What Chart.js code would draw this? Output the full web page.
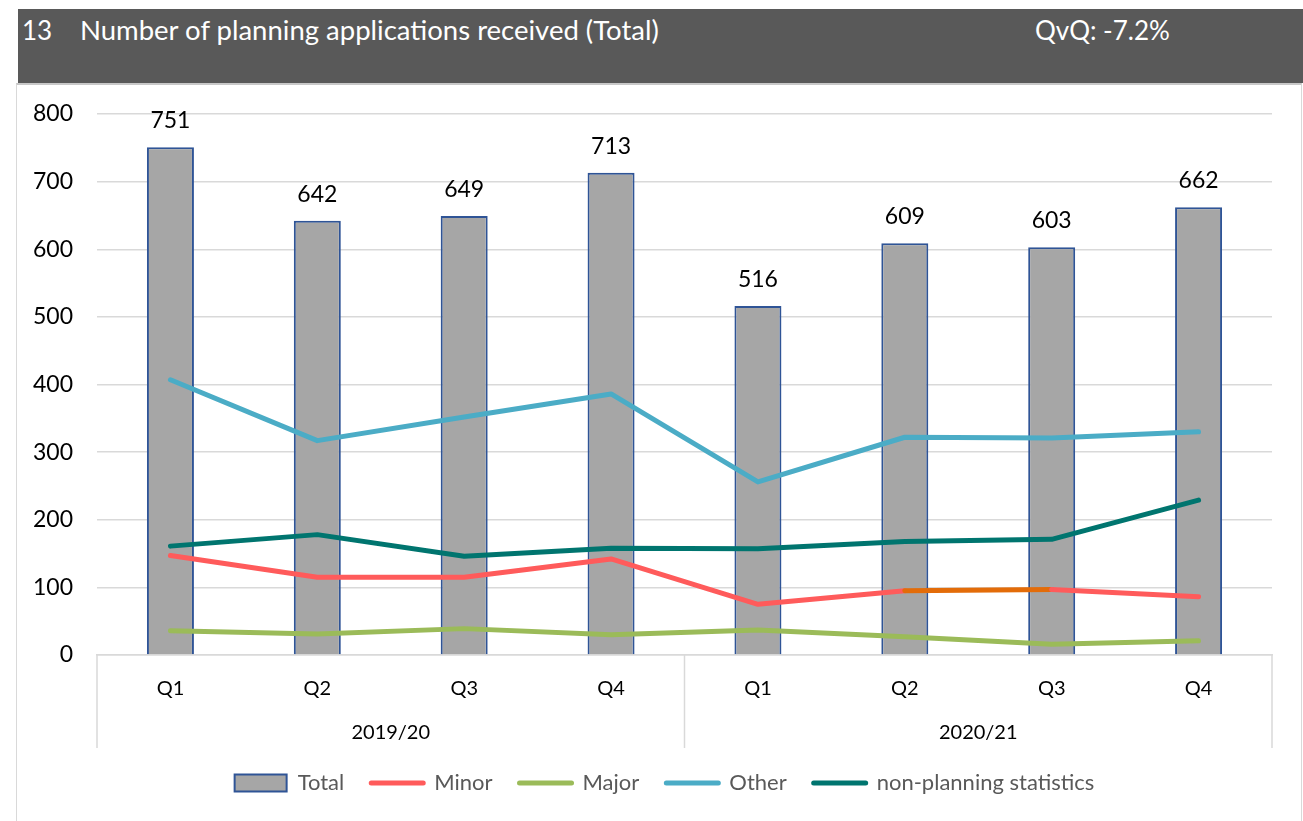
<!DOCTYPE html>
<html><head><meta charset="utf-8">
<script src="https://cdn.jsdelivr.net/npm/chart.js@4.4.1/dist/chart.umd.min.js"></script>
<style>
html,body{margin:0;padding:0;background:#fff;width:1303px;height:821px;overflow:hidden;font-family:Lato,sans-serif;}
#hdr{position:absolute;left:18px;top:9px;width:1285px;height:74px;background:#595959;color:#fff;font-size:26px;}
#hdr span{position:absolute;top:4px;line-height:34px;white-space:nowrap}
#box{position:absolute;left:16px;top:83px;width:1284px;height:760px;border:1px solid #D9D9D9;border-top:2px solid #C8C8C8;}
#wrap{position:absolute;left:0;top:0;width:1284px;height:736px;}
</style></head>
<body>
<div id="hdr"><span style="left:4px">13</span><span style="left:62px;font-size:27.5px">Number of planning applications received (Total)</span><span style="left:1017px">QvQ: -7.2%</span></div>
<div id="box"><div id="wrap"><canvas id="c"></canvas></div></div>
<script>
const categories = ['Q1','Q2','Q3','Q4','Q1','Q2','Q3','Q4'];
const years = ['2019/20','2020/21'];
const total = [751,642,649,713,516,609,603,662];
const minor = [147,115,115,142,75,95,97,86];
const major = [36,31,39,30,37,27,16,21];
const other = [407,317,352,386,256,322,321,330];
const nonPlanning = [161,178,146,158,157,168,171,229];
const yTicks = [0,100,200,300,400,500,600,700,800];

const FONT = 'Lato';

const barLabels = {
  id:'barLabels',
  afterDatasetsDraw(chart){
    const ctx = chart.ctx;
    const meta = chart.getDatasetMeta(0);
    ctx.save();
    ctx.font = '23px ' + FONT;
    ctx.fillStyle = '#000';
    ctx.textAlign = 'center';
    ctx.textBaseline = 'alphabetic';
    meta.data.forEach((el,i)=>{
      ctx.fillText(String(chart.data.datasets[0].data[i]), el.x, el.y - 19);
    });
    ctx.restore();
  }
};

const groupLines = {
  id:'groupLines',
  afterLayout(chart){
    if (chart.legend){ chart.legend.left += 20; chart.legend.right += 20; }
  },
  afterDraw(chart){
    const ctx = chart.ctx, a = chart.chartArea, x = chart.scales.x;
    const mid = (x.getPixelForValue(3) + x.getPixelForValue(4))/2;
    ctx.save();
    ctx.strokeStyle = '#D9D9D9';
    ctx.lineWidth = 1.5;
    [a.left, mid, a.right].forEach(px=>{
      ctx.beginPath();
      ctx.moveTo(px, a.bottom);
      ctx.lineTo(px, a.bottom + 93);
      ctx.stroke();
    });
    ctx.restore();
  }
};

const lineDs = (label, data, color, extra) => Object.assign({
  type:'line', label, data, borderColor:color, backgroundColor:color,
  borderWidth:5, pointRadius:0, pointHoverRadius:0, tension:0,
  borderCapStyle:'round', borderJoinStyle:'round', order:1, xAxisID:'x'
}, extra||{});

new Chart(document.getElementById('c'), {
  data:{
    labels: categories,
    datasets:[
      {type:'bar', label:'Total', data: total, backgroundColor:'#A6A6A6', borderColor:'#2F5496',
       borderWidth:{left:2,right:2,top:2,bottom:0}, barPercentage:0.32, categoryPercentage:1, order:10, xAxisID:'x'},
      lineDs('Minor', minor, '#FF5B5B', {segment:{borderColor: c => c.p0DataIndex === 5 ? '#E36C09' : undefined}}),
      lineDs('Major', major, '#9BBB59'),
      lineDs('Other', other, '#4BACC6'),
      lineDs('non-planning statistics', nonPlanning, '#00756F')
    ]
  },
  options:{
    responsive:true, maintainAspectRatio:false, animation:false,
    layout:{padding:{left:0,right:29,top:29,bottom:17}},
    plugins:{
      tooltip:{enabled:false},
      legend:{
        position:'bottom',
        labels:{
          usePointStyle:true, pointStyleWidth:52, boxHeight:17, padding:27,
          color:'#595959', font:{family:FONT,size:22},
          generateLabels(chart){
            const items = Chart.defaults.plugins.legend.labels.generateLabels(chart);
            items.forEach(it=>{
              const ds = chart.data.datasets[it.datasetIndex];
              if (it.datasetIndex === 0){
                it.pointStyle='rect'; it.fillStyle='#A6A6A6'; it.strokeStyle='#2F5496'; it.lineWidth=2;
              } else {
                it.pointStyle='line'; it.strokeStyle=ds.borderColor; it.fillStyle=ds.borderColor; it.lineWidth=5; it.lineCap='round';
              }
            });
            return items.sort((a,b)=>a.datasetIndex-b.datasetIndex);
          }
        }
      }
    },
    scales:{
      x:{
        type:'category', position:'bottom', offset:true,
        grid:{display:false, drawTicks:false},
        border:{display:true, color:'#D9D9D9', width:1.5},
        ticks:{color:'#000', font:{family:FONT,size:20}, padding:22, maxRotation:0},
        afterFit(s){ s.height = 48; }
      },
      x2:{
        type:'category', position:'bottom', offset:true, labels: years,
        grid:{display:false, drawTicks:false}, border:{display:false},
        ticks:{color:'#000', font:{family:FONT,size:20}, padding:18, maxRotation:0},
        afterFit(s){ s.height = 42; }
      },
      y:{
        min:0, max:800,
        afterBuildTicks(s){ s.ticks = yTicks.map(v=>({value:v})); },
        grid:{color:'#D9D9D9', lineWidth:1.5, drawTicks:true, tickLength:24, tickColor:'rgba(0,0,0,0)'},
        border:{display:false},
        ticks:{color:'#000', font:{family:FONT,size:23}, padding:0},
        afterFit(s){ s.width = 80; }
      }
    }
  },
  plugins:[barLabels, groupLines]
});
</script>
</body></html>
